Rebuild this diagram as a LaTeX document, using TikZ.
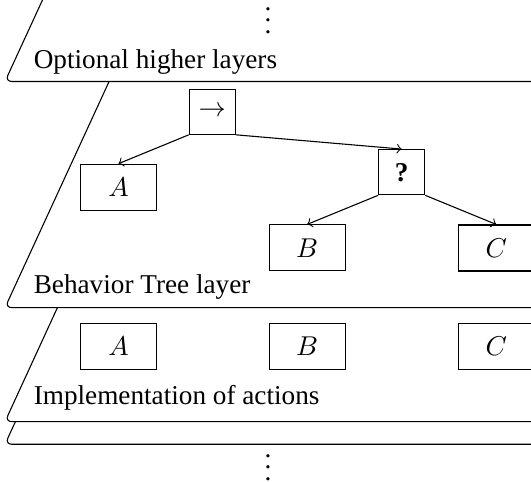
\documentclass[tikz,border=0pt]{standalone}
\usepackage{fontspec}
\setmainfont{Liberation Serif}
\newcommand{\tightvdots}{\vbox{\baselineskip4.2pt\lineskiplimit-10pt\hbox{.}\hbox{.}\hbox{.}}}
\begin{document}
\begin{tikzpicture}[x=0.3676pt,y=-0.3676pt,
  layerline/.style={line width=0.4pt, rounded corners=2.5pt},
  btbox/.style={draw, line width=0.4pt, minimum width=27.94pt, minimum height=16.9pt, inner sep=0pt},
  sqbox/.style={draw, line width=0.4pt, minimum width=16.9pt, minimum height=16.6pt, inner sep=0pt},
  edge/.style={->, line width=0.4pt},
  layerlabel/.style={anchor=base west, inner sep=0pt},
  dotsnode/.style={anchor=south, inner sep=0pt}]
\useasboundingbox (0,0) rectangle (531,482);
\clip (0,0) rectangle (531,482);
% layers
\draw[layerline] (51.7,-20) -- (5,81.5) -- (580,81.5);
\draw[layerline] (109.1,81.5) -- (5,307.7) -- (580,307.7);
\draw (109.1,81.5) -- (580,81.5);
\draw[layerline] (57.4,307.7) -- (5,421.7) -- (580,421.7);
\draw (57.4,307.7) -- (580,307.7);
\draw[layerline] (15.4,421.7) -- (5,444.3) -- (580,444.3);
\draw (15.4,421.7) -- (580,421.7);
% labels
\node[layerlabel] (l1) at (33.3,68.3) {Optional higher layers};
\node[layerlabel] (l2) at (33.3,293.3) {Behavior Tree layer};
\node[layerlabel] (l3) at (33.3,405) {Implementation of actions};
\node[dotsnode] (d1) at (268,34) {\tightvdots};
\node[dotsnode] (d2) at (268,481) {\tightvdots};
% behavior tree
\node[sqbox] (seq) at (212.3,111.7) {$\rightarrow$};
\node[sqbox] (fb) at (401.7,172.2) {\textbf{?}};
\node[btbox] (A1) at (118.5,187.2) {$A$};
\node[btbox] (B1) at (307.2,247.9) {$B$};
\node[btbox] (C1) at (496.3,248) {$C$};
\draw[edge] (seq.south west) -- (A1.north);
\draw[edge] (seq.south east) -- (fb.north);
\draw[edge] (fb.south west) -- (B1.north);
\draw[edge] (fb.south east) -- (C1.north);
% actions
\node[btbox] (A2) at (118.5,346.3) {$A$};
\node[btbox] (B2) at (307.2,346.3) {$B$};
\node[btbox] (C2) at (496.3,346.3) {$C$};
\end{tikzpicture}
\end{document}
